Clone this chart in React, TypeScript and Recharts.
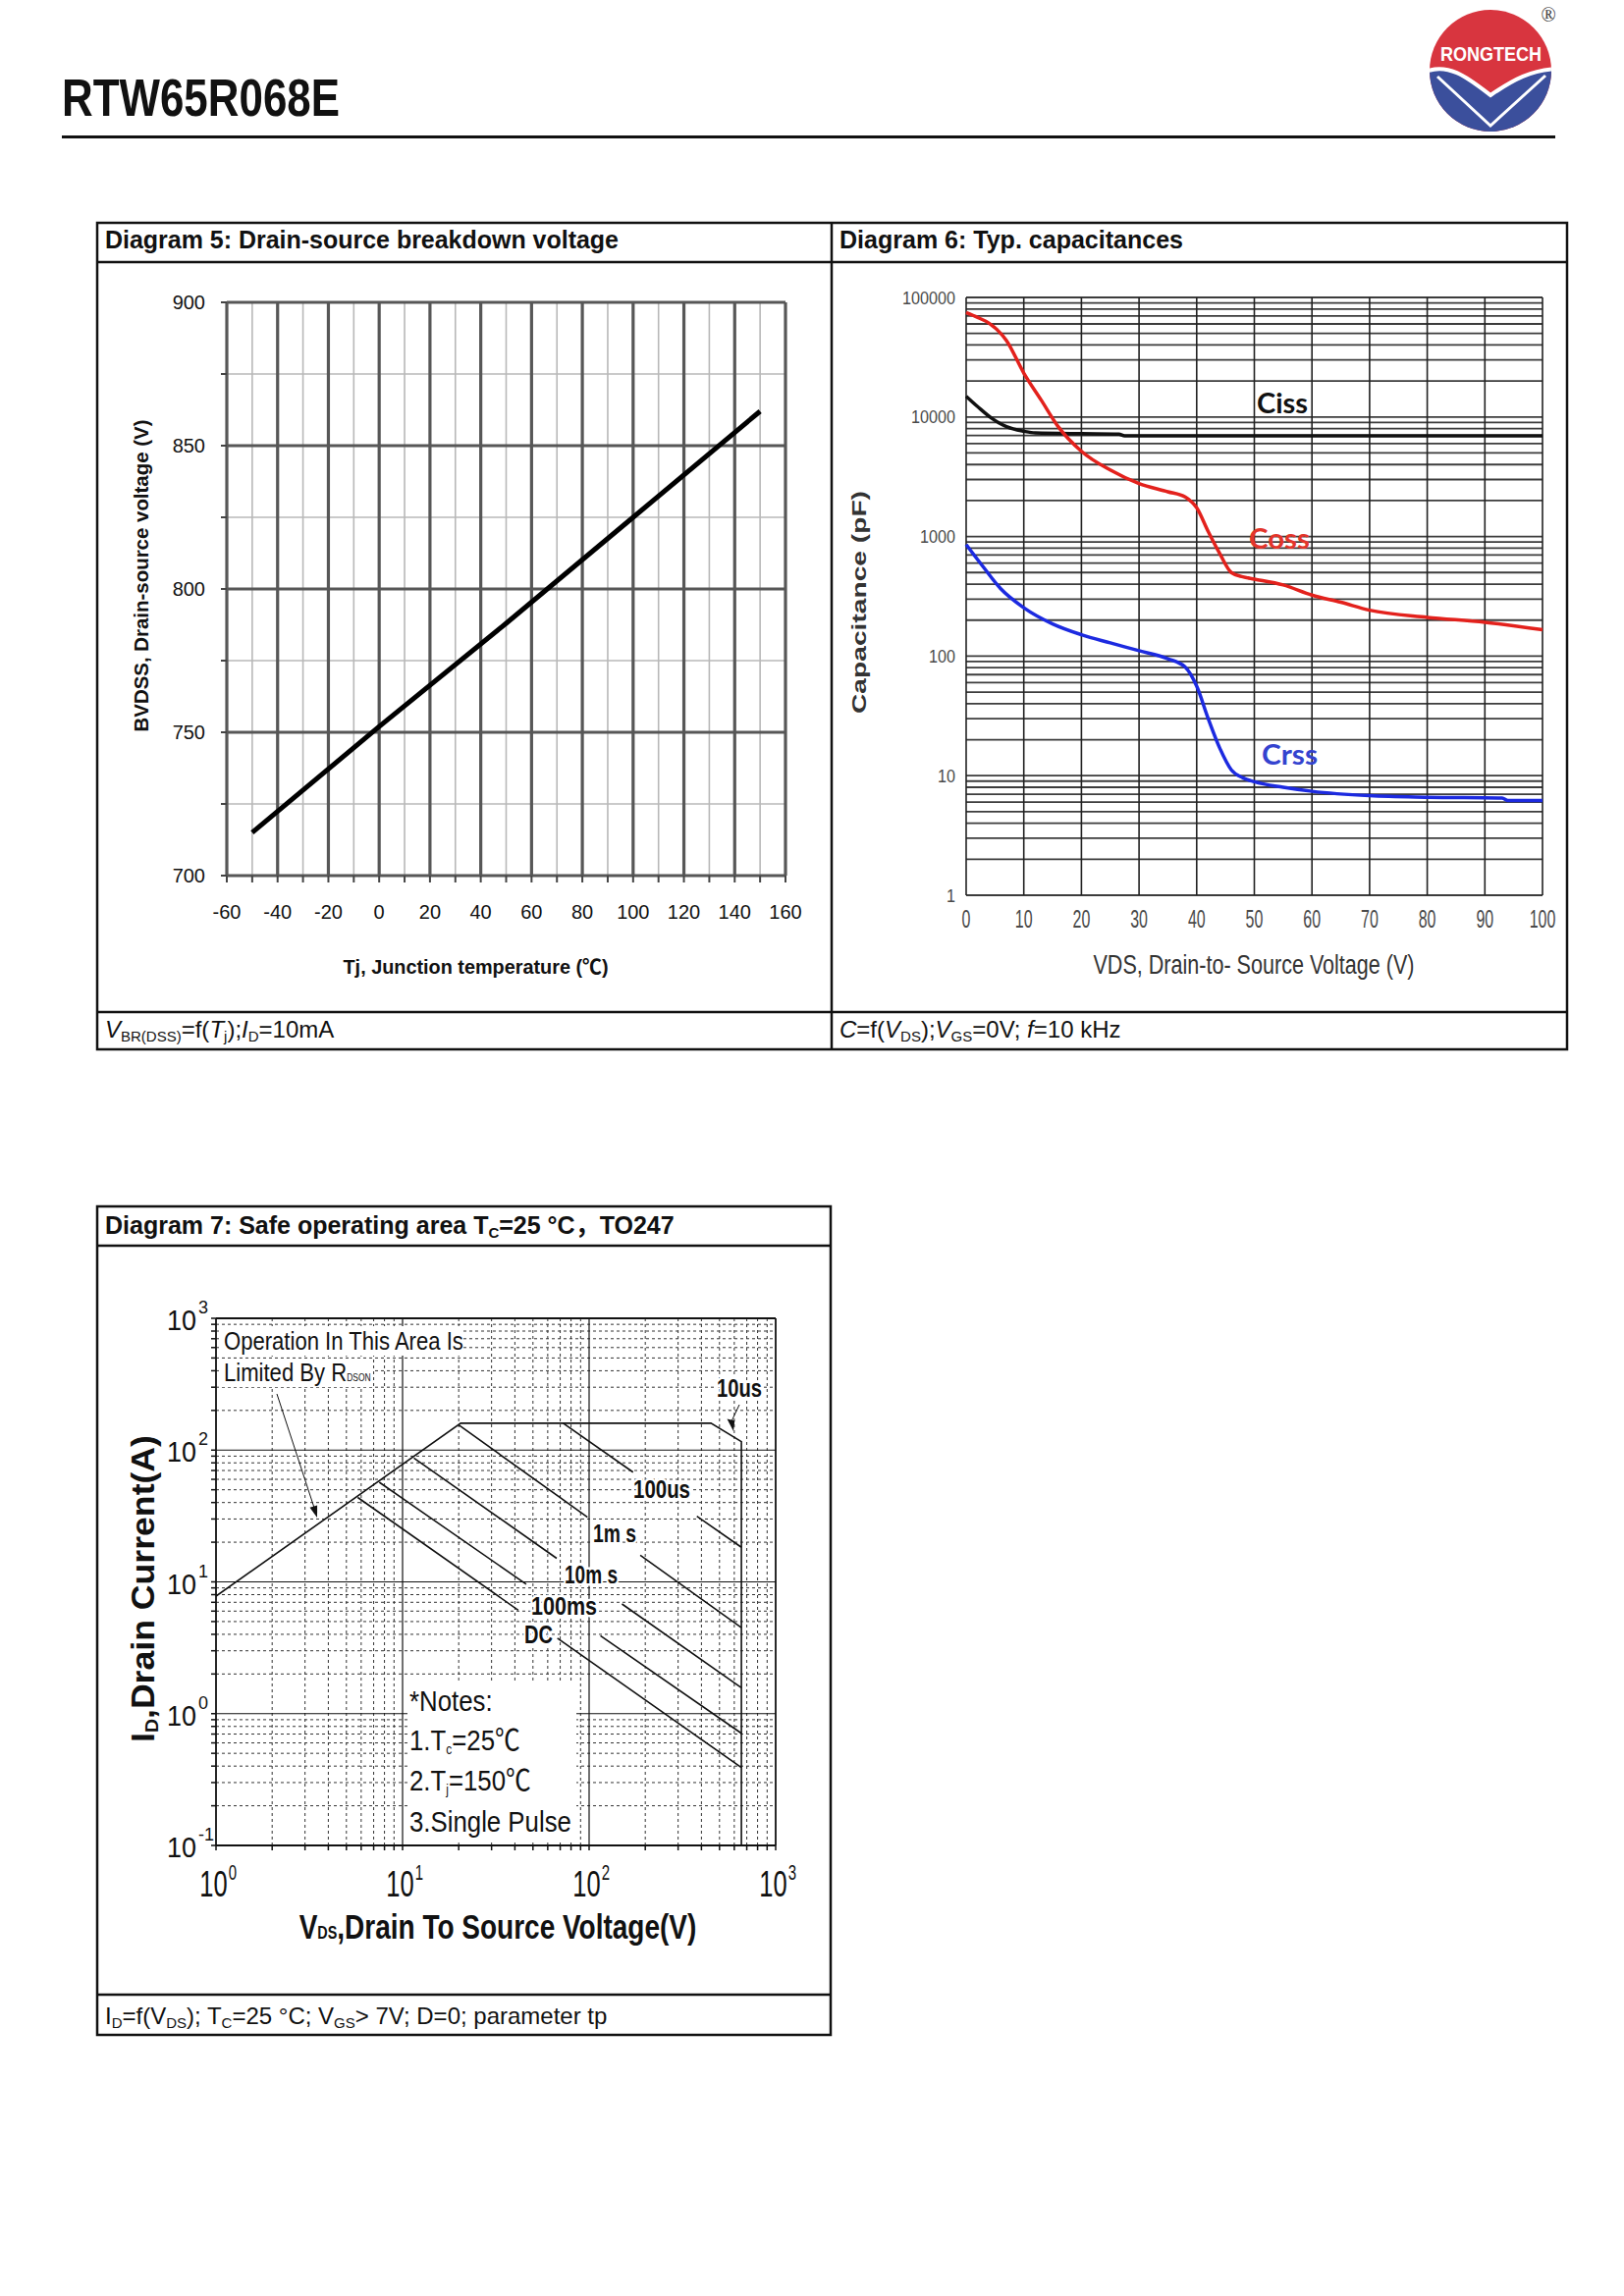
import React from 'react'
import { LineChart, Line, XAxis, YAxis, ReferenceLine } from 'recharts'

const FONT = "'Liberation Sans', Arial, Helvetica, 'Noto Sans CJK SC', sans-serif"
const CJK = "'Liberation Sans', Arial, 'Noto Sans CJK SC', sans-serif"

// Diagram 5: breakdown voltage vs junction temperature
const tjC = [-50, 0, 50, 100, 150]
const bvdssV = [715, 752, 788, 825, 862]
const tjTicks = [-60, -50, -40, -30, -20, -10, 0, 10, 20, 30, 40, 50, 60, 70, 80, 90, 100, 110, 120, 130, 140, 150, 160]
const tjMajor = [-60, -40, -20, 0, 20, 40, 60, 80, 100, 120, 140, 160]
const tjMinor = [-50, -30, -10, 10, 30, 50, 70, 90, 110, 130, 150]
const bvTicks = [700, 725, 750, 775, 800, 825, 850, 875, 900]
const bvMajor = [700, 750, 800, 850, 900]
const bvMinor = [725, 775, 825, 875]

// Diagram 6: capacitances
const cissVds = [0, 2, 4.5, 7, 10, 12, 20, 26.5, 27.5, 50, 75, 100]
const cissPf = [14900, 12200, 9700, 8300, 7600, 7350, 7250, 7200, 6950, 6950, 6950, 6950]
const cossVds = [0, 2, 4, 7, 10, 13, 16, 20, 25, 30, 35, 38, 40, 42, 44, 46, 48, 50, 55, 60, 65, 70, 80, 90, 100]
const cossPf = [74800, 68000, 60800, 43600, 23300, 13900, 8260, 5170, 3600, 2770, 2370, 2140, 1740, 1100, 720, 500, 460, 441, 394, 324, 282, 242, 211, 192, 166]
const crssVds = [0, 3, 6, 10, 15, 20, 25, 30, 35, 38, 40, 42, 44, 46, 48, 50, 55, 60, 70, 80, 93, 94, 100]
const crssPf = [858, 555, 366, 254, 186, 151, 129, 111, 95, 81, 56, 30, 17, 11.2, 9.6, 8.9, 8, 7.4, 6.8, 6.6, 6.5, 6.2, 6.2]
const capXTicks = [0, 10, 20, 30, 40, 50, 60, 70, 80, 90, 100]
const capYTicks = [1, 10, 100, 1000, 10000, 100000]

// Diagram 7: safe operating area
const soaLimV = [1, 20.5, 450, 655, 655]
const soaLimA = [7.8, 160, 160, 116, 0.1]
const us100V = [72.6, 172, 250, 378, 655]
const us100A = [160, 68, null, 31.5, 18.3]
const ms1V = [20, 98, 140, 188, 655]
const ms1A = [155, 31, null, 15.9, 4.5]
const ms10V = [11.5, 67, 100, 150, 655]
const ms10A = [87, 15.1, null, 6.8, 1.57]
const ms100V = [7.5, 46, 72, 115, 655]
const ms100A = [57, 9.6, null, 3.9, 0.71]
const dcV = [5.75, 41.7, 53, 67.6, 655]
const dcA = [43.7, 6.1, null, 3.74, 0.39]
const soaXDecades = [1, 10, 100, 1000]
const soaXExp = ['0', '1', '2', '3']
const soaYDecades = [0.1, 1, 10, 100, 1000]
const soaYExp = ['-1', '0', '1', '2', '3']

const mant = [1, 2, 3, 4, 5, 6, 7, 8, 9]
const capGridY = [1, 10, 100, 1000, 10000].flatMap((d) => mant.map((m) => m * d)).concat(100000)
const soaXTicks = [1, 10, 100].flatMap((d) => mant.map((m) => m * d)).concat(1000)
const soaYTicks = [0.1, 1, 10, 100].flatMap((d) => mant.map((m) => m * d)).concat(1000)
const soaXMinor = [1, 10, 100].flatMap((d) => mant.slice(1).map((m) => m * d))
const soaYMinor = [0.1, 1, 10, 100].flatMap((d) => mant.slice(1).map((m) => m * d))

const pts = (xs: number[], ys: (number | null)[], kx: string, ky: string) =>
  xs.map((x, i) => ({ [kx]: x, [ky]: ys[i] }))

const BvXTick = ({ x, y, payload }: any) =>
  payload.value % 20 === 0 ? (
    <text x={x} y={y + 14} textAnchor="middle" fontSize={20} fill="#111" fontFamily={FONT}>{payload.value}</text>
  ) : <g />

const BvYTick = ({ x, y, payload }: any) =>
  payload.value % 50 === 0 ? (
    <text x={x} y={y + 7} textAnchor="end" fontSize={20} fill="#111" fontFamily={FONT}>{payload.value}</text>
  ) : <g />

function BreakdownChart() {
  const data = pts(tjC, bvdssV, 't', 'v')
  return (
    <div style={{ position: 'absolute', left: 100, top: 270 }}>
      <LineChart width={760} height={720} data={data} margin={{ top: 38, right: 60, bottom: 38, left: 0 }}>
        <XAxis
          type="number" dataKey="t" domain={[-60, 160]} ticks={tjTicks} interval={0} height={60}
          axisLine={false} tickSize={7} tickMargin={23}
          tickLine={{ stroke: '#444', strokeWidth: 2 }} tick={BvXTick}
        />
        <YAxis
          type="number" domain={[700, 900]} ticks={bvTicks} interval={0} width={131}
          axisLine={false} tickSize={6} tickMargin={16}
          tickLine={{ stroke: '#444', strokeWidth: 2 }} tick={BvYTick}
        />
        {tjMinor.map((x) => <ReferenceLine key={'tn' + x} x={x} stroke="#b8b8b8" strokeWidth={1.6} />)}
        {bvMinor.map((y) => <ReferenceLine key={'bn' + y} y={y} stroke="#b8b8b8" strokeWidth={1.6} />)}
        {tjMajor.map((x) => <ReferenceLine key={'tj' + x} x={x} stroke="#575757" strokeWidth={3.2} />)}
        {bvMajor.map((y) => <ReferenceLine key={'bv' + y} y={y} stroke="#575757" strokeWidth={3.2} />)}
        <Line type="linear" dataKey="v" stroke="#000" strokeWidth={5} dot={false} isAnimationActive={false} />
      </LineChart>
    </div>
  )
}

const CapXTick = ({ x, y, payload }: any) => {
  const s = String(payload.value)
  return (
    <text x={x} y={y + 33} textAnchor="middle" fontSize={25} fill="#4a4a4a" fontFamily={FONT}
      textLength={s.length * 8.9} lengthAdjust="spacingAndGlyphs">{s}</text>
  )
}

const CapYTick = ({ x, y, payload }: any) => {
  const s = String(payload.value)
  return (
    <text x={x - 11} y={y + 6.5} textAnchor="end" fontSize={18.5} fill="#4a4a4a" fontFamily={FONT}
      textLength={s.length * 9} lengthAdjust="spacingAndGlyphs">{s}</text>
  )
}

function CapacitanceChart() {
  return (
    <div style={{ position: 'absolute', left: 860, top: 270 }}>
      <LineChart width={740} height={720} margin={{ top: 33, right: 29, bottom: 28, left: 0 }}>
        <XAxis type="number" dataKey="vds" domain={[0, 100]} ticks={capXTicks} interval={0} height={50}
          axisLine={false} tickLine={false} tickSize={0} tickMargin={0} tick={CapXTick} />
        <YAxis type="number" scale="log" domain={[1, 100000]} allowDataOverflow ticks={capYTicks} interval={0}
          width={124} axisLine={false} tickLine={false} tickSize={0} tickMargin={0} tick={CapYTick} />
        {capGridY.map((y) => <ReferenceLine key={'cy' + y} y={y} stroke="#3c3c3c" strokeWidth={1.8} />)}
        {capXTicks.map((x) => <ReferenceLine key={'cx' + x} x={x} stroke="#222" strokeWidth={1.6} />)}
        <Line data={pts(cissVds, cissPf, 'vds', 'c')} type="monotone" dataKey="c" stroke="#111" strokeWidth={3.5} dot={false} isAnimationActive={false} />
        <Line data={pts(cossVds, cossPf, 'vds', 'c')} type="monotone" dataKey="c" stroke="#e3211c" strokeWidth={3.5} dot={false} isAnimationActive={false} />
        <Line data={pts(crssVds, crssPf, 'vds', 'c')} type="monotone" dataKey="c" stroke="#1c2ae0" strokeWidth={3.5} dot={false} isAnimationActive={false} />
      </LineChart>
    </div>
  )
}

const SoaXTick = ({ x, y, payload }: any) => {
  const i = soaXDecades.indexOf(payload.value)
  if (i < 0) return <g />
  return (
    <g transform={`translate(${x + 21},${y + 47}) scale(1,1.45)`}>
      <text x={0} y={0} textAnchor="end" fontSize={25.5} fill="#111" fontFamily={FONT}>
        10<tspan dx={1} dy={-11.5} fontSize={15}>{soaXExp[i]}</tspan>
      </text>
    </g>
  )
}

const SoaYTick = ({ x, y, payload }: any) => {
  const i = soaYDecades.indexOf(payload.value)
  if (i < 0) return <g />
  return (
    <text x={x - 15} y={y + 12} fontSize={30} fill="#111" fontFamily={FONT} textAnchor="start" dx={-30}>
      <tspan textLength={30} lengthAdjust="spacingAndGlyphs">10</tspan>
      <tspan dx={2} dy={-17} fontSize={18}>{soaYExp[i]}</tspan>
    </text>
  )
}

function SoaChart() {
  const line = (xs: number[], ys: (number | null)[], k: string) => (
    <Line key={k} data={pts(xs, ys, 'v', 'a')} type="linear" dataKey="a" stroke="#111" strokeWidth={1.6}
      dot={false} isAnimationActive={false} connectNulls={false} />
  )
  return (
    <div style={{ position: 'absolute', left: 100, top: 1280 }}>
      <LineChart width={740} height={720} margin={{ top: 63, right: 50, bottom: 40, left: 0 }}>
        <XAxis type="number" dataKey="v" scale="log" domain={[1, 1000]} allowDataOverflow ticks={soaXTicks} interval={0}
          height={80} axisLine={false} tickSize={5} tickMargin={0} tickLine={{ stroke: '#111', strokeWidth: 1.5 }} tick={SoaXTick} />
        <YAxis type="number" scale="log" domain={[0.1, 1000]} allowDataOverflow ticks={soaYTicks} interval={0}
          width={120} axisLine={false} tickSize={5} tickMargin={0} tickLine={{ stroke: '#111', strokeWidth: 1.5 }} tick={SoaYTick} />
        {soaXMinor.map((x) => <ReferenceLine key={'sx' + x} x={x} stroke="#333" strokeWidth={1} strokeDasharray="3 3" />)}
        {soaYMinor.map((y) => <ReferenceLine key={'sy' + y} y={y} stroke="#333" strokeWidth={1} strokeDasharray="3 3" />)}
        {[10, 100].map((x) => <ReferenceLine key={'mx' + x} x={x} stroke="#111" strokeWidth={1.2} />)}
        {[1, 10, 100].map((y) => <ReferenceLine key={'my' + y} y={y} stroke="#111" strokeWidth={1.2} />)}
        <ReferenceLine x={1} stroke="#111" strokeWidth={1.8} />
        <ReferenceLine x={1000} stroke="#111" strokeWidth={1.8} />
        <ReferenceLine y={0.1} stroke="#111" strokeWidth={1.8} />
        <ReferenceLine y={1000} stroke="#111" strokeWidth={1.8} />
        {line(soaLimV, soaLimA, 'lim')}
        {line(us100V, us100A, 'us100')}
        {line(ms1V, ms1A, 'ms1')}
        {line(ms10V, ms10A, 'ms10')}
        {line(ms100V, ms100A, 'ms100')}
        {line(dcV, dcA, 'dc')}
      </LineChart>
    </div>
  )
}

// text runs: [text, flags] where flags may hold 'i' (italic) and 's' (subscript)
const Parts = ({ parts, sub = 15, drop = 4 }: { parts: [string, string][]; sub?: number; drop?: number }) => {
  let low = false
  return (
    <>
      {parts.map(([t, f], i) => {
        const isSub = f.includes('s')
        const dy = isSub && !low ? drop : !isSub && low ? -drop : undefined
        low = isSub
        return (
          <tspan key={i} dy={dy} fontSize={isSub ? sub : undefined} fontStyle={f.includes('i') ? 'italic' : undefined}>{t}</tspan>
        )
      })}
    </>
  )
}

function Overlay() {
  const halo = { stroke: '#fff', strokeWidth: 5, paintOrder: 'stroke' as const }
  return (
    <svg width={1654} height={2339} style={{ position: 'absolute', left: 0, top: 0, pointerEvents: 'none' }} fontFamily={FONT}>
      {/* header */}
      <text x={63} y={118} fontSize={54} fontWeight={700} fill="#111" textLength={283} lengthAdjust="spacingAndGlyphs">RTW65R068E</text>
      <line x1={63} x2={1584} y1={139.5} y2={139.5} stroke="#111" strokeWidth={3} />
      <defs>
        <clipPath id="logoClip"><circle cx={1518} cy={72} r={62} /></clipPath>
      </defs>
      <circle cx={1518} cy={72} r={62} fill="#d8353f" />
      <g clipPath="url(#logoClip)">
        <path d="M1450 74 C1474 62 1496 80 1518 97 C1540 82 1560 70 1590 70 L1590 140 L1450 140 Z" fill="#3b4f9c" />
        <path d="M1450 74 C1474 62 1496 80 1518 97 C1540 82 1560 70 1590 70" fill="none" stroke="#fff" strokeWidth={4} />
        <polyline points="1464,78 1518,128 1574,77" fill="none" stroke="#fff" strokeWidth={3} />
      </g>
      <text x={1518.5} y={62} textAnchor="middle" fontSize={21} fontWeight={700} fill="#fff" textLength={103} lengthAdjust="spacingAndGlyphs">RONGTECH</text>
      <text x={1577} y={22} textAnchor="middle" fontSize={20} fill="#333" fontFamily="'Liberation Serif', serif">®</text>

      {/* frames */}
      <g stroke="#111" strokeWidth={2.5} fill="none">
        <rect x={99} y={227} width={1497} height={842} />
        <line x1={99} x2={1596} y1={267} y2={267} />
        <line x1={99} x2={1596} y1={1031} y2={1031} />
        <line x1={847} x2={847} y1={227} y2={1069} />
        <rect x={99} y={1229} width={747} height={844} />
        <line x1={99} x2={846} y1={1269} y2={1269} />
        <line x1={99} x2={846} y1={2032} y2={2032} />
      </g>
      <g fontSize={25} fontWeight={700} fill="#111">
        <text x={107} y={253} textLength={523} lengthAdjust="spacingAndGlyphs">Diagram 5: Drain-source breakdown voltage</text>
        <text x={855} y={253} textLength={350} lengthAdjust="spacingAndGlyphs">Diagram 6: Typ. capacitances</text>
        <text x={107} y={1257} fontFamily={CJK}>
          <Parts parts={[['Diagram 7: Safe operating area T', ''], ['C', 's'], ['=25 °C，TO247', '']]} />
        </text>
      </g>
      <g fontSize={24} fill="#111">
        <text x={107} y={1057}>
          <Parts parts={[['V', 'i'], ['BR(DSS)', 's'], ['=f(', ''], ['T', 'i'], ['j', 's'], [');', ''], ['I', 'i'], ['D', 's'], ['=10mA', '']]} />
        </text>
        <text x={855} y={1057}>
          <Parts parts={[['C', 'i'], ['=f(', ''], ['V', 'i'], ['DS', 's'], [');', ''], ['V', 'i'], ['GS', 's'], ['=0V; ', ''], ['f', 'i'], ['=10 kHz', '']]} />
        </text>
        <text x={107} y={2062}>
          <Parts parts={[['I', ''], ['D', 's'], ['=f(V', ''], ['DS', 's'], ['); T', ''], ['C', 's'], ['=25 °C; V', ''], ['GS', 's'], ['> 7V; D=0; parameter tp', '']]} />
        </text>
      </g>

      {/* diagram 5 titles */}
      <g transform="translate(151,586.5) rotate(-90)">
        <text textAnchor="middle" fontSize={21} fontWeight={700} fill="#111" textLength={318} lengthAdjust="spacingAndGlyphs">BVDSS, Drain-source voltage (V)</text>
      </g>
      <text x={484.5} y={992} textAnchor="middle" fontSize={21} fontWeight={700} fill="#111" fontFamily={CJK} textLength={270} lengthAdjust="spacingAndGlyphs">Tj, Junction temperature (℃)</text>

      {/* diagram 6 titles */}
      <g transform="translate(882,613.5) rotate(-90)">
        <text textAnchor="middle" fontSize={21} fontWeight={700} fill="#333" textLength={227} lengthAdjust="spacingAndGlyphs">Capacitance (pF)</text>
      </g>
      <text x={1277} y={992} textAnchor="middle" fontSize={27} fill="#333" textLength={327} lengthAdjust="spacingAndGlyphs">VDS, Drain-to- Source Voltage (V)</text>
      <g fontFamily="Lato, 'Open Sans', sans-serif" fontWeight={700} fontSize={28}>
        <text x={1280} y={421} fill="#111" textLength={52} lengthAdjust="spacingAndGlyphs">Ciss</text>
        <text x={1272} y={559} fill="#e3352b" textLength={62} lengthAdjust="spacingAndGlyphs">Coss</text>
        <text x={1285} y={779} fill="#3443cf" textLength={57} lengthAdjust="spacingAndGlyphs">Crss</text>
      </g>

      {/* diagram 7 titles */}
      <g transform="translate(157,1618.5) rotate(-90) scale(1.08,1)">
        <text textAnchor="middle" fontSize={33} fontWeight={700} fill="#111">
          <Parts parts={[['I', ''], ['D', 's'], [',Drain Current(A)', '']]} sub={18} />
        </text>
      </g>
      <g transform="translate(507,1975) scale(0.8,1)">
        <text textAnchor="middle" fontSize={35} fontWeight={700} fill="#111">
          V<tspan fontSize={18}>DS</tspan>,Drain To Source Voltage(V)
        </text>
      </g>

      {/* diagram 7 annotations */}
      <rect x={224} y={1351} width={246} height={30} fill="#fff" />
      <rect x={224} y={1384} width={156} height={29} fill="#fff" />
      <g transform="translate(228,1375) scale(0.85,1)">
        <text fontSize={26} fill="#111">Operation In This Area Is</text>
      </g>
      <g transform="translate(228,1407) scale(0.85,1)">
        <text fontSize={26} fill="#111">Limited By R<tspan fontSize={10}>DSON</tspan></text>
      </g>
      <line x1={282} y1={1420} x2={320} y2={1536} stroke="#111" strokeWidth={1} />
      <polygon points="323,1546 323.1,1533.4 315.5,1535.8" fill="#111" />
      <line x1={753} y1={1431} x2={745} y2={1448} stroke="#111" strokeWidth={1} />
      <polygon points="747,1458 748.3,1447.2 740.5,1445.4" fill="#111" />

      <g fontWeight={700} fontSize={25} fill="#111">
        <text x={730} y={1423} textLength={46} lengthAdjust="spacingAndGlyphs" {...halo}>10us</text>
        <text x={645} y={1526} textLength={58} lengthAdjust="spacingAndGlyphs" {...halo}>100us</text>
        <text x={604} y={1571} textLength={44} lengthAdjust="spacingAndGlyphs" {...halo}>1m s</text>
        <text x={575} y={1613} textLength={54} lengthAdjust="spacingAndGlyphs" {...halo}>10m s</text>
        <text x={541} y={1645} textLength={67} lengthAdjust="spacingAndGlyphs" {...halo}>100ms</text>
        <text x={534} y={1674} textLength={29} lengthAdjust="spacingAndGlyphs" {...halo}>DC</text>
      </g>

      <rect x={415} y={1712} width={172} height={162} fill="#fff" />
      <g fontSize={30} fill="#111" fontFamily={CJK}>
        <g transform="translate(417,1743) scale(0.86,1)"><text>*Notes:</text></g>
        <g transform="translate(417,1783) scale(0.86,1)"><text><Parts parts={[['1.T', ''], ['c', 's'], ['=25℃', '']]} sub={14} /></text></g>
        <g transform="translate(417,1824) scale(0.86,1)"><text><Parts parts={[['2.T', ''], ['j', 's'], ['=150℃', '']]} sub={14} /></text></g>
        <g transform="translate(417,1866) scale(0.86,1)"><text>3.Single Pulse</text></g>
      </g>
    </svg>
  )
}

export default function App() {
  return (
    <div style={{ position: 'absolute', left: 0, top: 0, width: 1654, height: 2339, background: '#fff', overflow: 'hidden', fontFamily: FONT }}>
      <BreakdownChart />
      <CapacitanceChart />
      <SoaChart />
      <Overlay />
    </div>
  )
}
